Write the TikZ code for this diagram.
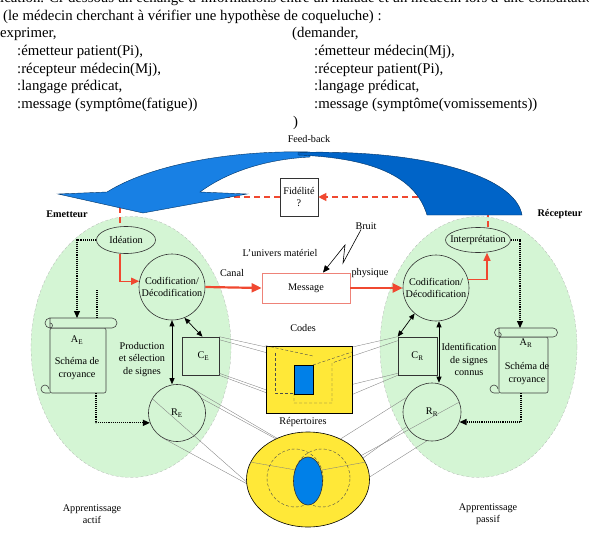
\documentclass[tikz,border=0pt]{standalone}
\usepackage{fontspec}
\setmainfont{Liberation Serif}
\usetikzlibrary{arrows.meta,shapes.geometric}
\definecolor{vertzone}{RGB}{212,245,212}
\definecolor{rougefl}{RGB}{240,72,48}
\definecolor{rosebord}{RGB}{238,130,120}
\definecolor{jaune}{RGB}{255,232,56}
\definecolor{bleuclair}{RGB}{24,128,228}
\definecolor{bleufonce}{RGB}{0,100,200}
\definecolor{bleucode}{RGB}{0,128,232}
\begin{document}
\begin{tikzpicture}[x=1pt,y=-1pt,
    txt/.style={font=\fontsize{14.8}{17.7}\selectfont,anchor=base west,inner sep=0pt},
    lbl/.style={font=\fontsize{10.2}{12.5}\selectfont,align=center,inner sep=0pt},
    gras/.style={lbl,font=\fontsize{10.2}{12.5}\selectfont\bfseries},
    zone/.style={ellipse,draw=gray!70,densely dashed,very thin,fill=vertzone,minimum width=200pt,minimum height=261pt},
    bulle/.style={lbl,ellipse,draw=black!80,line width=0.6pt},
    rond/.style={lbl,circle,draw=black!80,line width=0.6pt},
    boite/.style={lbl,rectangle,draw=black!80,line width=0.6pt},
    parch/.style={draw=black!75,fill=vertzone,line width=0.6pt},
    msgbox/.style={lbl,rectangle,draw=rosebord,line width=0.8pt,fill=white,minimum width=88pt,minimum height=30pt},
    rouge/.style={draw=rougefl,line width=2.2pt,-{Triangle[length=10pt,width=9pt]}},
    rougefin/.style={draw=rougefl,line width=1.3pt,-{Triangle[length=8pt,width=7pt]}},
    rtiret/.style={draw=rougefl,line width=1.2pt,dash pattern=on 6pt off 4pt,-{Triangle[length=8pt,width=8pt]}},
    pointille/.style={densely dotted,line width=1.1pt,-{Triangle[length=7pt,width=6pt]}},
    noire/.style={line width=0.7pt,{Triangle[length=6pt,width=5pt]}-{Triangle[length=6pt,width=5pt]}},
    proj/.style={gray,line width=0.35pt},
    tiret/.style={black!70,densely dashed,line width=0.4pt},
  ]
\useasboundingbox (0,0) rectangle (589,538);

% texte du haut
\node[txt] (t0) at (0,2.3) {ication. Ci-dessous un échange d’informations entre un malade et un médecin lors d’une consultation};
\node[txt] (t1) at (3,20) {(le médecin cherchant à vérifier une hypothèse de coqueluche) :};
\node[txt] (t2) at (-5,37.7) {(exprimer,};
\node[txt] (t3) at (17,55.4) {:émetteur patient(Pi),};
\node[txt] (t4) at (17,73.1) {:récepteur médecin(Mj),};
\node[txt] (t5) at (17,90.8) {:langage prédicat,};
\node[txt] (t6) at (17,108.5) {:message (symptôme(fatigue))};
\node[txt] (t7) at (292,37.7) {(demander,};
\node[txt] (t8) at (314,55.4) {:émetteur médecin(Mj),};
\node[txt] (t9) at (314,73.1) {:récepteur patient(Pi),};
\node[txt] (t10) at (314,90.8) {:langage prédicat,};
\node[txt] (t11) at (314,108.5) {:message (symptôme(vomissements))};
\node[txt] (t12) at (293,126.2) {)};

% zones emetteur / recepteur
\node[zone] (zoneE) at (131,347) {};
\node[zone,minimum width=197pt] (zoneR) at (478.5,347) {};

\node[lbl] (feedback) at (309,139) {Feed-back};
\node[boite,minimum size=38pt,fill=white] (fid) at (299,197) {Fidélité\\?};
\node[gras] (emet) at (67,214) {Emetteur};
\node[gras] (recep) at (560,214) {Récepteur};
\node[bulle,minimum width=59pt,minimum height=27pt] (idea) at (126,240) {Idéation};
\node[bulle,minimum width=65pt,minimum height=25pt] (interp) at (478,240) {\makebox[0pt]{Interprétation}};

% retour
\draw[rtiret] ([xshift=10pt]interp.north) |- (fid.east);
\draw[rtiret,-] (fid.west) -| ([xshift=-6pt]idea.north);
\fill[bleuclair,draw=bleufonce!50!black,line width=0.4pt] (310,152) .. controls (230,150) and (150,165) .. (107,192) -- (58,194) -- (143,213) -- (247,194) -- (200,192) .. controls (230,170) and (270,159) .. (310,157) -- cycle;
\fill[bleufonce,draw=bleufonce!50!black,line width=0.4pt] (298,152.5) .. controls (420,149) and (515,175) .. (522,215) -- (427,215) .. controls (415,175) and (370,158) .. (298,155) -- cycle;

\node[rond,minimum size=66pt] (codE) at (172,287) {Codification/\\Décodification};
\node[rond,minimum size=66pt] (codR) at (436,288) {Codification/\\Décodification};
\node[msgbox] (msg) at (306,288) {Message};
\node[lbl] (canal) at (232,273) {Canal};
\node[lbl] (phys) at (370,273) {physique};
\node[lbl] (univers) at (280,253) {L’univers matériel};
\node[lbl] (bruit) at (366,226) {Bruit};
\node[rond,minimum size=57pt] (RE) at (177,413) {R\textsubscript{E}};
\node[rond,minimum size=58pt] (RR) at (432,412) {R\textsubscript{R}};
\node[boite,minimum width=37pt,minimum height=38pt] (CE) at (200.5,356) {\hspace{6pt}C\textsubscript{E}};
\node[boite,minimum width=39pt,minimum height=38pt] (CR) at (417.5,356) {C\textsubscript{R}};
\node[lbl] (prod) at (142,359.5) {Production\\et sélection\\de signes};
\node[lbl] (ident) at (469,359.5) {Identification\\de signes\\connus};

% parchemins
\node[parch,minimum width=56pt,minimum height=65pt,rounded corners=2pt] (scrE) at (78,360.5) {};
\filldraw[parch] (50,318) -- (112,318) arc[start angle=90,end angle=-90,radius=5pt] -- (50,328) -- cycle;
\draw[parch,fill=none] (50,318) arc[start angle=90,end angle=270,radius=5pt];
\draw[parch,fill=none] (50,328) arc[start angle=-90,end angle=90,radius=2.5pt];
\draw[parch,fill=none] (50,393) -- (45,393) arc[start angle=-90,end angle=-360,radius=4pt];
\node[lbl] (AE) at (77,340) {A\textsubscript{E}};
\node[lbl] (croyE) at (77,368.5) {Schéma de\\croyance};
\node[parch,minimum width=49pt,minimum height=56pt,rounded corners=2pt] (scrR) at (523.5,365) {};
\filldraw[parch] (499,328) -- (553,328) arc[start angle=90,end angle=-90,radius=4.5pt] -- (499,337) -- cycle;
\draw[parch,fill=none] (499,328) arc[start angle=90,end angle=270,radius=4.5pt];
\draw[parch,fill=none] (499,337) arc[start angle=-90,end angle=90,radius=2.25pt];
\draw[parch,fill=none] (499,393) -- (494,393) arc[start angle=-90,end angle=-360,radius=4pt];
\node[lbl] (AR) at (526,343) {A\textsubscript{R}};
\node[lbl] (croyR) at (527,373.5) {Schéma de\\croyance};

% fleches
\draw[rouge] (codE.east) -- (msg.west);
\draw[rouge] (msg.east) -- (codR.west);
\draw[rougefin] ([xshift=-6pt]idea.south) |- (codE.170);
\draw[rougefin] (codR.15) -| ([xshift=9pt]interp.south);
\coordinate (rouleauE) at (77,318);
\coordinate (filE) at (97,290);
\coordinate (rouleauR) at (520,328);
\draw[pointille] (idea.west) -| (rouleauE);
\draw[pointille,-] (97,318) -- (filE);
\draw[pointille] ([xshift=18pt]scrE.south) |- (RE.200);
\draw[pointille] (interp.east) -| (rouleauR);
\draw[pointille] ([xshift=-2.5pt]scrR.south) |- (RR.340);
\draw[noire] (codE.south) -- (codE.south |- RE.north);
\draw[noire] (codE.-68) -- ([xshift=2pt]CE.north);
\draw[noire] ([xshift=3pt]codR.south) -- ([xshift=3pt]codR.south |- RR.north);
\draw[noire] (codR.-130) -- (CR.north west);
\draw[line width=0.6pt,-{Triangle[length=7pt,width=6pt]}] ([xshift=-5pt]bruit.south) -- (343,263) -- (345,245) -- ([xshift=17pt]msg.north);

% projections
\draw[proj] (CE.north east) -- (266,347);
\draw[proj] ([yshift=-3pt]CE.north east) -- (275,355);
\draw[proj] ([yshift=2pt]CE.south east) -- (275,393);
\draw[proj] (CE.south east) -- (294,403);
\draw[proj] (CR.north west) -- (313,356);
\draw[proj] ([yshift=-4pt]CR.north west) -- (332,363);
\draw[proj] ([yshift=2pt]CR.south west) -- (313,394);
\draw[proj] (CR.south west) -- (332,403);
\draw[proj] (RE.60) -- (280,440);
\draw[proj] (RE.30) -- (300,452);
\draw[proj] (RE.150) -- (250,485);
\draw[proj] (RE.-120) -- (262,492);
\draw[proj] (RR.20) -- (320,478);
\draw[proj] (RR.150) -- (323,450);
\draw[proj] (RR.-150) -- (352,466);
\draw[proj] (RR.-100) -- (368,478);

% codes et repertoires
\node[lbl] (codesT) at (303,328) {Codes};
\node[draw=black,line width=0.6pt,fill=jaune,minimum width=86pt,minimum height=67pt] (codes) at (309,379.5) {};
\draw[tiret] (codes.north west) -- (313,356);
\draw[tiret] (275,353) -- (275,393) -- (294,393);
\draw[tiret] (294,393) -- (294,403) -- (332,403) -- (332,363) -- (352,356);
\draw[tiret] (313,365) -- (352,352);
\node[draw=black,line width=0.6pt,fill=bleucode,minimum width=19pt,minimum height=29pt] (codeB) at (303.5,379.5) {};
\node[lbl] (repT) at (303,422) {Répertoires};
\node[ellipse,draw=black,line width=0.6pt,fill=jaune,minimum width=123pt,minimum height=95pt] (rep) at (308,479.5) {};
\draw[proj] (250,462) -- (296,470);
\draw[proj] (366,462) -- (322,470);
\draw[tiret] (295,478) ellipse[x radius=28pt,y radius=29pt];
\draw[tiret] (322,478) ellipse[x radius=28pt,y radius=29pt];
\node[ellipse,draw=black!80,line width=0.6pt,fill=bleucode,minimum width=29pt,minimum height=48pt] (repB) at (308,481) {};

\node[lbl] (actif) at (92,514) {Apprentissage\\actif};
\node[lbl] (passif) at (488,514) {Apprentissage\\passif};
\end{tikzpicture}
\end{document}
